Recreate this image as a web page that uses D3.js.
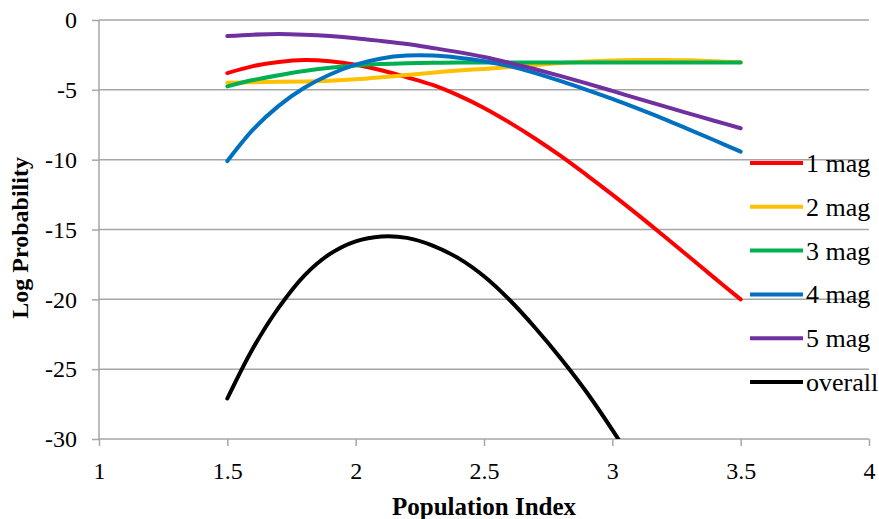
<script src="https://d3js.org/d3.v7.min.js"></script>

<style type="text/css">
  body { margin: 0; background: #fff; }
  svg { width: 879px; height: 519px; display: block; }
</style>

<body></body>

<script>
  // data
  var xVals   = [1.5, 1.6, 1.7, 1.8, 1.9, 2.0, 2.1, 2.2, 2.3, 2.4, 2.5, 2.6, 2.7, 2.8, 2.9, 3.0, 3.1, 3.2, 3.3, 3.4, 3.5];
  var mag1    = [-3.8, -3.3, -3.0, -2.86, -2.95, -3.2, -3.6, -4.1, -4.65, -5.4, -6.3, -7.35, -8.5, -9.75, -11.1, -12.5, -13.95, -15.45, -16.97, -18.5, -20.0];
  var mag2    = [-4.5, -4.46, -4.43, -4.4, -4.35, -4.25, -4.1, -3.93, -3.77, -3.62, -3.5, -3.37, -3.22, -3.08, -2.97, -2.9, -2.87, -2.86, -2.89, -2.95, -3.03];
  var mag3    = [-4.75, -4.3, -3.95, -3.65, -3.42, -3.25, -3.15, -3.09, -3.06, -3.05, -3.05, -3.05, -3.05, -3.05, -3.05, -3.05, -3.05, -3.05, -3.05, -3.05, -3.05];
  var mag4    = [-10.1, -7.85, -6.15, -4.85, -3.9, -3.2, -2.75, -2.55, -2.55, -2.7, -2.95, -3.3, -3.8, -4.38, -5.0, -5.65, -6.35, -7.08, -7.85, -8.63, -9.43];
  var mag5    = [-1.15, -1.05, -1.0, -1.05, -1.15, -1.3, -1.5, -1.72, -2.0, -2.3, -2.65, -3.07, -3.53, -4.02, -4.54, -5.08, -5.63, -6.17, -6.7, -7.23, -7.75];
  var overall = [-27.1, -23.5, -20.6, -18.3, -16.75, -15.85, -15.5, -15.6, -16.15, -17.05, -18.35, -20.05, -22.05, -24.25, -26.65, -29.35, -32.25, -35.35, -38.6, -42.0, -45.5];

  var seriesNames = ['1 mag', '2 mag', '3 mag', '4 mag', '5 mag', 'overall'];
  var seriesVals  = [mag1, mag2, mag3, mag4, mag5, overall];
  var colors      = ['#FF0000', '#FFC000', '#00B050', '#0070C0', '#7030A0', '#000000'];

  var xTicks = [1, 1.5, 2, 2.5, 3, 3.5, 4];
  var yTicks = [0, -5, -10, -15, -20, -25, -30];

  var serif = '"Liberation Serif", Tinos, "Times New Roman", Times, "DejaVu Serif", serif';

  // layout
  var width = 879, height = 519;
  var margin = {top: 20, bottom: 80, left: 99, right: 10};
  var plotRight = 869;
  var svg = d3.select('body').append('svg')
    .attr('width', width).attr('height', height)
    .attr('font-family', serif);

  // scales
  var xScale = d3.scaleLinear().domain([1, 4]).range([margin.left, plotRight]);
  var yScale = d3.scaleLinear().domain([-30, 0]).range([height - margin.bottom, margin.top]);
  var gridColor = '#A6A6A6';

  // horizontal gridlines
  svg.append('g')
    .selectAll('line')
    .data(yTicks.filter(d => d != -30))
    .enter().append('line')
    .attr('x1', xScale(1)).attr('x2', xScale(4))
    .attr('y1', d => yScale(d)).attr('y2', d => yScale(d))
    .attr('stroke', gridColor).attr('stroke-width', 1.5);

  // axes
  var axisY = svg.append('g')
    .attr('transform', 'translate(' + [xScale(1), 0] + ')')
    .call(d3.axisLeft(yScale).tickValues(yTicks).tickSize(7).tickPadding(15).tickFormat(d => d));
  var axisX = svg.append('g')
    .attr('transform', 'translate(' + [0, yScale(-30)] + ')')
    .call(d3.axisBottom(xScale).tickValues(xTicks).tickSize(7).tickPadding(16).tickFormat(d => d));

  [axisY, axisX].forEach(function(a) {
    a.attr('font-family', serif).attr('font-size', 24);
    a.select('.domain').attr('stroke', gridColor).attr('stroke-width', 1.5);
    a.selectAll('.tick line').attr('stroke', gridColor).attr('stroke-width', 1.5);
    a.selectAll('.tick text').attr('fill', '#000');
  });
  axisY.select('.domain').attr('d', 'M0,' + yScale(0) + 'V' + yScale(-30));
  axisX.select('.domain').attr('d', 'M' + xScale(1) + ',0H' + xScale(4));

  // lines, clipped to the plot area
  svg.append('clipPath').attr('id', 'plot')
    .append('rect')
    .attr('x', xScale(1)).attr('y', yScale(0))
    .attr('width', xScale(4) - xScale(1)).attr('height', yScale(-30) - yScale(0));

  var line = d3.line()
    .x((d, i) => xScale(xVals[i]))
    .y(d => yScale(d))
    .curve(d3.curveCatmullRom.alpha(0.5));

  svg.append('g').attr('clip-path', 'url(#plot)')
    .selectAll('path')
    .data(seriesVals)
    .enter().append('path')
    .attr('d', d => line(d))
    .attr('fill', 'none')
    .attr('stroke', (d, i) => colors[i])
    .attr('stroke-width', 4)
    .attr('stroke-linecap', 'round');

  // legend
  var legend = svg.append('g')
    .selectAll('g')
    .data(seriesNames)
    .enter().append('g')
    .attr('transform', (d, i) => 'translate(' + [750, 163 + i * 43.8] + ')');
  legend.append('line')
    .attr('x1', 0).attr('x2', 53)
    .attr('stroke', (d, i) => colors[i])
    .attr('stroke-width', 4);
  legend.append('text')
    .attr('x', 56).attr('y', 9)
    .attr('font-size', 26)
    .text(d => d);

  // axis titles
  svg.append('text')
    .attr('x', (xScale(1) + xScale(4)) / 2).attr('y', 515)
    .attr('text-anchor', 'middle')
    .attr('font-size', 25).attr('font-weight', 'bold')
    .text('Population Index');
  svg.append('text')
    .attr('transform', 'translate(28,' + yScale(-15.6) + ') rotate(-90)')
    .attr('text-anchor', 'middle')
    .attr('font-size', 24).attr('font-weight', 'bold')
    .text('Log Probability');
</script>
